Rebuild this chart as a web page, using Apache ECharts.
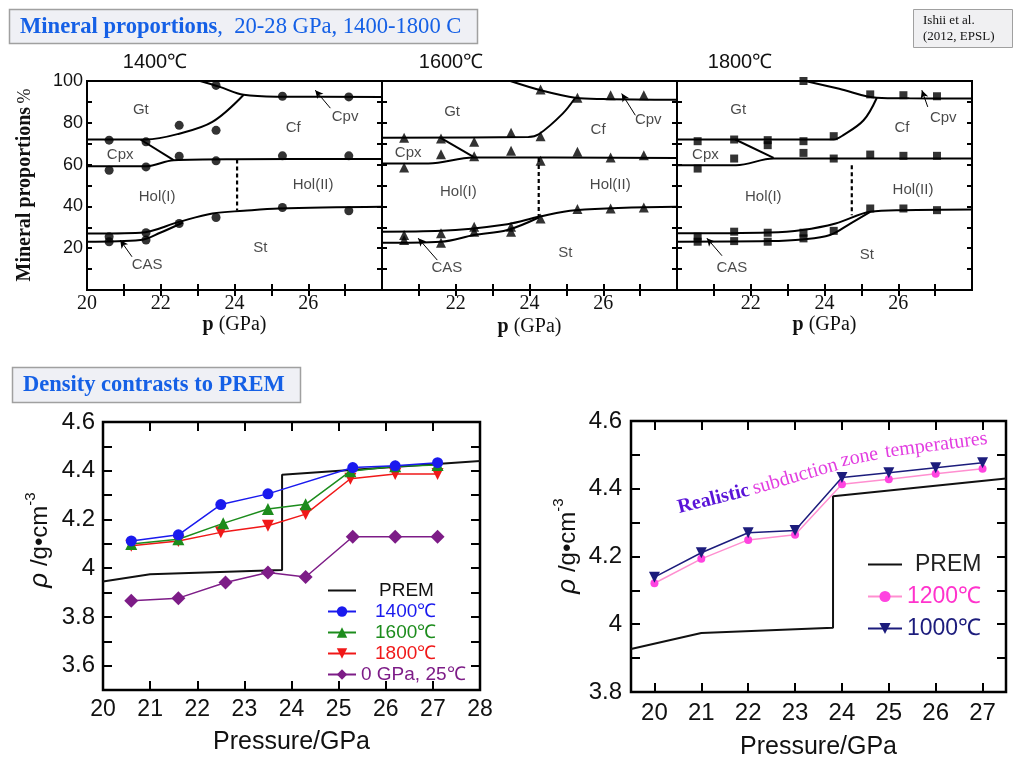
<!DOCTYPE html>
<html><head><meta charset="utf-8">
<script src="https://cdn.jsdelivr.net/npm/echarts@6/dist/echarts.min.js"></script>
<style>html,body{margin:0;padding:0;background:#fff}#c{width:1024px;height:768px}</style>
</head><body><div id="c"></div>
<script>
// ---------------- DATA: mineral proportions (x = pressure GPa, y = cumulative %) ----------------
// 1400 C
const b1400_cpv = [[23.07,100],[23.6,97.2],[24.25,93.4],[25.2,92.5],[28,92.4]];
const b1400_gt  = [[20,72],[21.6,72],[22.5,74.8],[23.4,80.4],[24.25,93.4]];
const b1400_cpx = [[21.45,72],[22.35,62.1]];
const b1400_hol = [[20,59.2],[21.6,59.2],[22.35,62.1],[24,62.6],[28,62.7]];
const b1400_st  = [[20,27],[21.45,27.4],[22.5,32.6],[23.4,36.6],[24.25,37.9],[25.2,39],[28,39.8]];
const b1400_cas = [[20,23.1],[21.45,23.9],[22,27.5],[22.6,32.3]];
const dash1400  = [[24.07,62.4],[24.07,38]];
const pts1400 = [[23.5,97.9],[25.3,92.7],[27.1,92.4],[22.5,78.8],[23.5,76.4],[20.6,71.7],[21.6,70.9],[22.5,64],[23.5,61.8],[25.3,64.2],[27.1,64.2],[20.6,57.3],[21.6,58.9],[22.5,31.8],[23.5,34.7],[25.3,39.5],[27.1,37.9],[20.6,25.5],[20.6,23.1],[21.6,27.4],[21.6,23.9]];
// 1600 C
const b1600_cpv = [[23.48,100],[24.3,95.6],[25.24,92],[26,91.4],[28,91]];
const b1600_gt  = [[20,72.9],[23.97,73.2],[24.25,74.5],[24.9,84.4],[25.24,92]];
const b1600_cpx = [[21.58,72.9],[22.48,63.7]];
const b1600_hol = [[20,60.5],[21.26,60.5],[22.48,63.4],[28,63.2]];
const b1600_st  = [[20,27.9],[21.6,28.3],[23.4,31.5],[24.25,35],[25.24,38.2],[28,39.8]];
const b1600_cas = [[20,22.6],[21.6,23.1],[22.5,26.3],[23.4,28.7],[24.25,34.7]];
const dash1600  = [[24.25,63.2],[24.25,35]];
const pts1600 = [[23.48,100.6],[24.3,95.9],[25.3,92],[26.2,93.2],[27.1,93.2],[20.6,72.8],[21.6,72.5],[22.5,70.9],[23.5,75.2],[24.3,73.6],[21.6,65],[23.5,66.6],[25.3,66.1],[22.5,64],[24.3,61.8],[26.2,63.4],[27.1,64.5],[20.6,58.6],[25.3,38.7],[26.2,39],[27.1,39.5],[24.3,34.2],[22.5,30.3],[22.5,27.9],[23.5,30.3],[23.5,27.9],[20.6,26.3],[20.6,23.9],[21.6,27.1],[21.6,22.6]];
// 1800 C
const b1800_cpv = [[23.48,100],[24.4,96.3],[25.42,92],[26.3,91.7],[28,91.6]];
const b1800_gt  = [[20,72],[24.25,72],[24.5,74],[25.06,81.2],[25.42,92]];
const b1800_cpx = [[21.58,72],[22.62,63.2]];
const b1800_hol = [[20,59.7],[21.6,59.7],[22.62,62.9],[28,62.9]];
const b1800_st  = [[20,27.1],[22.5,27.5],[23.4,28.7],[24.3,31.8],[25.24,37.4],[26.14,38.2],[28,38.5]];
const b1800_cas = [[20,23.1],[22.5,23.4],[23.4,24.2],[24.15,26.3],[24.7,31.8],[25.24,37.4]];
const dash1800  = [[24.74,59.7],[24.74,35.8]];
const pts1800 = [[23.43,100],[24.25,100.3],[25.24,93.6],[26.14,93.2],[27.05,92.7],[20.56,71.2],[21.55,72],[22.46,71.7],[22.46,69.3],[23.43,71.2],[24.25,73.6],[23.43,65.6],[25.24,64.8],[26.14,64.2],[27.05,64.2],[21.55,62.9],[24.25,62.9],[20.56,58.1],[25.24,39],[26.14,39],[27.05,38.2],[24.25,28.3],[23.43,27.4],[23.43,24.7],[22.46,27.4],[22.46,23.1],[21.55,27.9],[21.55,23.4],[20.56,25.5],[20.56,23.1]];

// phase-field labels [x, y, text] and arrows
const lab1400 = [[21.46,86,'Gt'],[25.59,77.4,'Cf'],[27.0,82.7,'Cpv'],[20.9,64.5,'Cpx'],[21.9,44.6,'Hol(I)'],[26.13,50.2,'Hol(II)'],[24.7,20.1,'St'],[21.63,11.9,'CAS']];
const arr1400 = [[[26.6,87],[26.19,95.6]],[[21.22,15.9],[20.9,23.9]]];
const lab1600 = [[21.9,85.2,'Gt'],[25.86,76.4,'Cf'],[27.22,81.2,'Cpv'],[20.71,65.6,'Cpx'],[22.07,46.8,'Hol(I)'],[26.19,50.2,'Hol(II)'],[24.97,17.7,'St'],[21.76,10.5,'CAS']];
const arr1600 = [[[26.87,83.6],[26.5,94]],[[21.5,14.3],[20.98,24.8]]];
const lab1800 = [[21.66,86,'Gt'],[26.1,77.4,'Cf'],[27.22,82.2,'Cpv'],[20.77,64.5,'Cpx'],[22.34,44.6,'Hol(I)'],[26.4,47.8,'Hol(II)'],[25.15,16.7,'St'],[21.49,10.5,'CAS']];
const arr1800 = [[[26.8,87.6],[26.64,95.6]],[[21.22,16.4],[20.81,24.8]]];

// ---------------- DATA: density (g/cm3) vs pressure (GPa) ----------------
const premL = [[20,3.945],[21,3.975],[23.8,3.993],[23.8,4.383],[28,4.44]];
const d1400 = [[20.6,4.112],[21.6,4.137],[22.5,4.261],[23.5,4.305],[25.3,4.413],[26.2,4.42],[27.1,4.433]];
const d1600 = [[20.6,4.099],[21.6,4.119],[22.55,4.184],[23.5,4.243],[24.3,4.262],[25.25,4.398],[26.2,4.418],[27.1,4.424]];
const d1800 = [[20.6,4.092],[21.6,4.112],[22.5,4.147],[23.5,4.174],[24.3,4.222],[25.25,4.367],[26.2,4.387],[27.1,4.387]];
const d0GPa = [[20.6,3.866],[21.6,3.877],[22.6,3.941],[23.5,3.982],[24.3,3.964],[25.3,4.129],[26.2,4.129],[27.1,4.129]];
const premR = [[19.5,3.927],[21,3.974],[23.81,3.99],[23.81,4.378],[27.5,4.43]];
const r1200 = [[20,4.121],[21,4.193],[22,4.249],[23,4.264],[24,4.413],[25,4.428],[26,4.444],[27,4.459]];
const r1000 = [[20,4.139],[21,4.211],[22,4.27],[23,4.277],[24,4.433],[25,4.447],[26,4.462],[27,4.477]];

// tick / label values
const topXTicks = [21,22,23,24,25,26,27];
const topYTicks = [10,20,30,40,50,60,70,80,90];
const topYLabels = [20,40,60,80,100];
const blXLabels = [20,21,22,23,24,25,26,27,28];
const blYTicks = [3.6,3.7,3.8,3.9,4.0,4.1,4.2,4.3,4.4,4.5];
const blYLabels = [3.6,3.8,4.0,4.2,4.4,4.6];
const brX = [20,21,22,23,24,25,26,27];
const brYTicks = [3.9,4.0,4.1,4.2,4.3,4.4,4.5];
const brYLabels = [3.8,4.0,4.2,4.4,4.6];

// ---------------- BUILD ----------------
const SANS = '"Liberation Sans", Arial, Helvetica, sans-serif';
const SERIF = '"Liberation Serif", "Times New Roman", serif';
const grids=[], xAxes=[], yAxes=[], series=[];
function fmt(v){ return String(Math.round(v*10)/10); }
function tick(len, vals){ return {show:true, inside:true, length:len, customValues:vals, lineStyle:{color:'#000', width:2}}; }
function lab(a){ return a ? {show:true, customValues:a.vals, formatter:fmt, margin:a.margin, color:'#111', fontFamily:a.font, fontSize:a.size} : {show:false}; }
function addGrid(box, bw, xs, ys){
  const gi = grids.length;
  grids.push({left:box[0], top:box[1], width:box[2], height:box[3], show:true, borderColor:'#000', borderWidth:bw, backgroundColor:'rgba(0,0,0,0)'});
  const xi = xAxes.length, yi = yAxes.length;
  const base = (s)=>({gridIndex:gi, type:'value', min:s.min, max:s.max, axisLine:{show:false}, splitLine:{show:false}, axisTick:tick(s.len, s.ticks)});
  xAxes.push(Object.assign(base(xs), {position:'bottom', axisLabel:lab(xs.label)}, xs.extra||{}));
  xAxes.push(Object.assign(base(xs), {position:'top', axisLabel:{show:false}}));
  yAxes.push(Object.assign(base(ys), {position:'left', axisLabel:lab(ys.label)}));
  yAxes.push(Object.assign(base(ys), {position:'right', axisLabel:{show:false}}));
  return {xi, yi};
}

const topPanels = [
  {left:87, title:'1400℃', tx:155, lines:[b1400_cpv,b1400_gt,b1400_cpx,b1400_hol,b1400_st,b1400_cas], dash:dash1400, pts:pts1400, sym:'circle', ss:9, labs:lab1400, arrs:arr1400, xl:[20,22,24,26], yl:true, gap:24},
  {left:382, title:'1600℃', tx:451, lines:[b1600_cpv,b1600_gt,b1600_cpx,b1600_hol,b1600_st,b1600_cas], dash:dash1600, pts:pts1600, sym:'triangle', ss:10, labs:lab1600, arrs:arr1600, xl:[22,24,26], yl:false, gap:27},
  {left:677, title:'1800℃', tx:740, lines:[b1800_cpv,b1800_gt,b1800_cpx,b1800_hol,b1800_st,b1800_cas], dash:dash1800, pts:pts1800, sym:'rect', ss:8, labs:lab1800, arrs:arr1800, xl:[22,24,26], yl:false, gap:22}
];
const graphics = [];
topPanels.forEach(p=>{
  const ax = addGrid([p.left,81,295,209], 2,
    {min:20,max:28,len:6,ticks:topXTicks,label:{vals:p.xl,margin:4,font:SERIF,size:20},
     extra:{name:'{b|p} (GPa)', nameLocation:'middle', nameGap:p.gap, nameTextStyle:{fontFamily:SERIF,fontSize:20,color:'#111',rich:{b:{fontFamily:SERIF,fontSize:20,fontWeight:'bold',color:'#111'}}}}},
    {min:0,max:100,len:5,ticks:topYTicks,label:p.yl?{vals:topYLabels,margin:4,font:SANS,size:18}:null});
  const common = {xAxisIndex:ax.xi, yAxisIndex:ax.yi, silent:true};
  p.lines.forEach(l=>series.push(Object.assign({type:'line', data:l, smooth:0.35, symbol:'none', lineStyle:{color:'#000',width:2}, z:3}, common)));
  series.push(Object.assign({type:'line', data:p.dash, symbol:'none', lineStyle:{color:'#000',width:2.2,type:[4,3]}, z:3}, common));
  series.push(Object.assign({type:'scatter', data:p.pts, symbol:p.sym, symbolSize:p.ss, itemStyle:{color:'#000'}, z:4}, common));
  series.push(Object.assign({type:'scatter', symbolSize:0,
    data:p.labs.map(d=>({name:d[2], value:[d[0],d[1]]})),
    label:{show:true, position:'inside', formatter:'{b}', color:'#1a1a1a', fontFamily:SANS, fontSize:15},
    markLine:{silent:true, symbol:['none','arrow'], symbolSize:[6,8], label:{show:false}, lineStyle:{color:'#000',width:1,type:'solid'},
      data:p.arrs.map(a=>[{coord:a[0]},{coord:a[1]}])}, z:5}, common));
  graphics.push({type:'text', x:p.tx, y:62, style:{text:p.title, fontFamily:SANS, fontSize:20, fill:'#111', align:'center', verticalAlign:'middle'}});
});

// bottom-left density chart
const bl = addGrid([103,422,377,268], 2.5,
  {min:20,max:28,len:9,ticks:[21,22,23,24,25,26,27],label:{vals:blXLabels,margin:8,font:SANS,size:23},
   extra:{name:'Pressure/GPa', nameLocation:'middle', nameGap:40, nameTextStyle:{fontFamily:SANS,fontSize:25,color:'#111'}}},
  {min:3.5,max:4.6,len:9,ticks:blYTicks,label:{vals:blYLabels,margin:8,font:SANS,size:24}});
const blc = {xAxisIndex:bl.xi, yAxisIndex:bl.yi};
const premStyle = {symbol:'circle', showSymbol:false, lineStyle:{color:'#111',width:2}, itemStyle:{color:'rgba(0,0,0,0)'}, z:2};
series.push(Object.assign({type:'line', name:'PREM', data:premL}, premStyle, blc));
series.push(Object.assign({type:'line', name:'1400℃', data:d1400, symbol:'circle', symbolSize:11, lineStyle:{color:'#1a1aee',width:1.5}, itemStyle:{color:'#1a1aee'}, z:5}, blc));
series.push(Object.assign({type:'line', name:'1600℃', data:d1600, symbol:'triangle', symbolSize:12, lineStyle:{color:'#1c8c1c',width:1.5}, itemStyle:{color:'#1c8c1c'}, z:4}, blc));
series.push(Object.assign({type:'line', name:'1800℃', data:d1800, symbol:'triangle', symbolRotate:180, symbolSize:12, lineStyle:{color:'#f01818',width:1.5}, itemStyle:{color:'#f01818'}, z:3}, blc));
series.push(Object.assign({type:'line', name:'0 GPa, 25℃', data:d0GPa, symbol:'diamond', symbolSize:14, lineStyle:{color:'#7d1c87',width:1.5}, itemStyle:{color:'#7d1c87'}, z:3}, blc));

// bottom-right density chart
const br = addGrid([631,421,375,271], 2.5,
  {min:19.5,max:27.5,len:9,ticks:brX,label:{vals:brX,margin:9,font:SANS,size:24},
   extra:{name:'Pressure/GPa', nameLocation:'middle', nameGap:43, nameTextStyle:{fontFamily:SANS,fontSize:25,color:'#111'}}},
  {min:3.8,max:4.6,len:9,ticks:brYTicks,label:{vals:brYLabels,margin:9,font:SANS,size:24}});
const brc = {xAxisIndex:br.xi, yAxisIndex:br.yi};
series.push(Object.assign({type:'line', name:'PREM', data:premR}, premStyle, brc));
series.push(Object.assign({type:'line', name:'1200℃', data:r1200, symbol:'circle', symbolSize:8, lineStyle:{color:'#ff8fd0',width:1.5}, itemStyle:{color:'#ff44e0'}, z:3}, brc));
series.push(Object.assign({type:'line', name:'1000℃', data:r1000, symbol:'triangle', symbolRotate:180, symbolSize:11, lineStyle:{color:'#1c1c7c',width:1.5}, itemStyle:{color:'#1c1c7c'}, z:4}, brc));

// curved annotation, word by word
const annWords = [
  {t:'Realistic', x:678, y:508, r:0.244, bold:true, c:'#5a14d8'},
  {t:'subduction', x:753, y:489, r:0.28, c:'#e23de0'},
  {t:'zone', x:841, y:461, r:0.19, c:'#e23de0'},
  {t:'temperatures', x:885, y:452, r:0.13, c:'#e23de0'}
];
annWords.forEach(w=>graphics.push({type:'text', x:w.x, y:w.y, rotation:w.r, z:10,
  style:{text:w.t, fontFamily:SERIF, fontSize:20, fontWeight:w.bold?'bold':'normal', fill:w.c, verticalAlign:'middle'}}));

// decorations
graphics.push(
  {type:'rect', shape:{x:9.5,y:9.5,width:468,height:34}, style:{fill:'#eff0f5', stroke:'#a0a0a0', lineWidth:1.5}},
  {type:'text', x:20, y:27, style:{text:'{b|Mineral proportions}{n|,  20-28 GPa, 1400-1800 C}', verticalAlign:'middle',
     rich:{b:{fontFamily:SERIF,fontSize:22.6,fontWeight:'bold',fill:'#1560e6'}, n:{fontFamily:SERIF,fontSize:22.6,fill:'#1560e6'}}}},
  {type:'rect', shape:{x:913.5,y:9.5,width:99,height:38}, style:{fill:'#f0f0f2', stroke:'#a0a0a0', lineWidth:1}},
  {type:'text', x:923, y:13, style:{text:'Ishii et al.\n(2012, EPSL)', fontFamily:SERIF, fontSize:13, lineHeight:16, fill:'#111'}},
  {type:'rect', shape:{x:12.5,y:367.5,width:288,height:35}, style:{fill:'#eff0f5', stroke:'#a0a0a0', lineWidth:1.5}},
  {type:'text', x:23, y:385, style:{text:'Density contrasts to PREM', fontFamily:SERIF, fontSize:22.5, fontWeight:'bold', fill:'#1560e6', verticalAlign:'middle'}},
  {type:'text', x:25, y:185, rotation:Math.PI/2, style:{text:'{b|Mineral proportions} {n|%}', align:'center', verticalAlign:'middle',
     rich:{b:{fontFamily:SERIF,fontSize:20,fontWeight:'bold',fill:'#111'}, n:{fontFamily:SERIF,fontSize:18,fill:'#111'}}}},
  {type:'text', x:40, y:540, rotation:Math.PI/2, style:{text:'{r|ρ} /g•cm{s|-3}', align:'center', verticalAlign:'middle', fontFamily:SANS, fontSize:24, fill:'#111',
     rich:{r:{fontFamily:SANS,fontSize:26,fontStyle:'italic',fill:'#111'}, s:{fontFamily:SANS,fontSize:15,fill:'#111',padding:[0,0,18,0]}}}},
  {type:'text', x:568, y:546, rotation:Math.PI/2, style:{text:'{r|ρ} /g•cm{s|-3}', align:'center', verticalAlign:'middle', fontFamily:SANS, fontSize:24, fill:'#111',
     rich:{r:{fontFamily:SANS,fontSize:26,fontStyle:'italic',fill:'#111'}, s:{fontFamily:SANS,fontSize:15,fill:'#111',padding:[0,0,18,0]}}}}
);

const chart = echarts.init(document.getElementById('c'));
chart.setOption({
  animation:false,
  backgroundColor:'#fff',
  grid:grids, xAxis:xAxes, yAxis:yAxes, series:series, graphic:graphics,
  legend:[
    {left:322, top:576, orient:'vertical', itemWidth:28, itemHeight:13, itemGap:2, selectedMode:false,
     textStyle:{fontFamily:SANS, fontSize:19, lineHeight:19},
     data:[{name:'PREM', textStyle:{color:'#111', padding:[0,0,0,18]}},
           {name:'1400℃', textStyle:{color:'#1a1aee', padding:[0,0,0,14]}},
           {name:'1600℃', textStyle:{color:'#1c8c1c', padding:[0,0,0,14]}},
           {name:'1800℃', textStyle:{color:'#f01818', padding:[0,0,0,14]}},
           {name:'0 GPa, 25℃', textStyle:{color:'#7d1c87'}}]},
    {left:862, top:547, orient:'vertical', itemWidth:34, itemHeight:14, itemGap:7, selectedMode:false,
     textStyle:{fontFamily:SANS, fontSize:23, lineHeight:25},
     data:[{name:'PREM', textStyle:{color:'#222', padding:[0,0,0,8]}},
           {name:'1200℃', textStyle:{color:'#ff33cc'}},
           {name:'1000℃', textStyle:{color:'#1c1c7c'}}]}
  ]
});
</script></body></html>
